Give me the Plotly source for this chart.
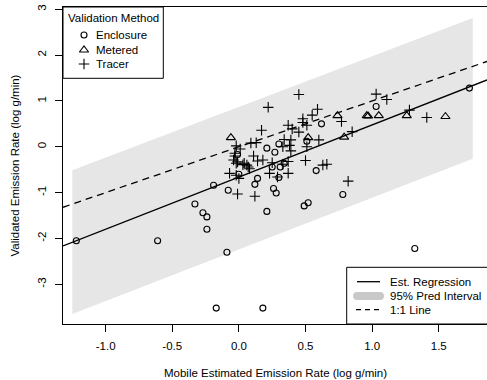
import plotly.graph_objects as go

# ---- data ----
enc_x = [-1.22, -0.61, -0.33, -0.27, -0.24, -0.24, -0.19, -0.08, -0.09, -0.17, 0.00, -0.01, 0.18, 1.32, 1.73,
         0.12, 0.14, 0.26, 0.28, 0.21, 0.49, 0.52, 0.78, 0.30, 0.58, 0.62, 0.30, 0.21, 0.27, 0.51, 0.25, 0.31, 0.34, 1.03]
enc_y = [-2.05, -2.05, -1.25, -1.44, -1.53, -1.80, -0.84, -0.95, -2.30, -3.52, -0.60, -0.17, -3.52, -2.22, 1.28,
         -0.82, -0.69, -0.91, -1.01, -1.41, -1.29, -1.22, -1.04, -0.67, -0.52, 0.50, 0.06, -0.03, -0.12, 0.12, -0.44, -0.44, -0.36, 0.88]

met_x = [-0.06, 0.52, 0.74, 0.96, 0.97, 1.05, 1.26, 1.55, 0.79]
met_y = [0.20, 0.20, 0.68, 0.68, 0.67, 0.68, 0.68, 0.66, 0.21]

tr_x = [0.45, 0.22, 0.59, 1.03, 1.11, 0.55, 0.48, 0.48, 0.51, 0.37, 0.40, 0.17, 0.45,
        0.09, 0.13, -0.02, 0.01, 0.34, 0.39, 0.33, 0.38, 0.60, 0.51,
        0.11, 0.18, 0.14, -0.03, -0.02, 0.04, 0.07, 0.25, 0.33, 0.50, 0.63, 0.66,
        -0.07, -0.02, 0.23, 0.29, 0.37, 0.12, -0.01, 0.00, -0.04, -0.01, 0.03, 0.08,
        -0.03, 0.37, 0.39, 0.06, 0.82, 1.41, 0.77, 0.85, 1.28]
tr_y = [1.14, 0.86, 0.82, 1.15, 1.03, 0.69, 0.61, 0.53, 0.47, 0.47, 0.39, 0.36, 0.32,
        0.08, 0.09, 0.02, -0.05, 0.16, 0.15, 0.00, 0.03, 0.15, 0.00,
        -0.20, -0.29, -0.31, -0.20, -0.36, -0.36, -0.44, -0.35, -0.38, -0.30, -0.40, -0.38,
        -0.58, -0.62, -0.58, -0.66, -0.58, -1.08, -1.03, -0.69, -0.29, -0.33, -0.39, -0.48,
        -0.14, -0.32, -0.09, -0.40, -0.75, 0.64, 0.55, 0.33, 0.80]

reg_coef = [-0.662, 1.1386]          # intercept, slope
band_x = [-1.25, 1.755]
band_upper = [-0.51, 2.81]
band_lower = [-3.65, -0.26]

x_ticks = [-1.0, -0.5, 0.0, 0.5, 1.0, 1.5]
x_ticktext = ["-1.0", "-0.5", "0.0", "0.5", "1.0", "1.5"]
y_ticks = [-3, -2, -1, 0, 1, 2, 3]
y_ticktext = ["-3", "-2", "-1", "0", "1", "2", "3"]

method_labels = ["Enclosure", "Metered", "Tracer"]
line_labels = ["Est. Regression", "95% Pred Interval", "1:1 Line"]

x_range = [-1.32, 1.862]
y_range = [-3.867, 3.05]

# ---- styling / layout ----
FONT = "Liberation Sans, Arial, Helvetica, sans-serif"
FS = 11.5
BAND = "#E6E6E6"
SWATCH = "#C8C8C8"
L, R, T, B = 63, 487, 7, 324          # plot-area pixel box

fig = go.Figure()

# prediction band
fig.add_trace(go.Scatter(
    x=band_x + band_x[::-1], y=band_upper + band_lower[::-1],
    fill="toself", fillcolor=BAND, line=dict(width=0, color=BAND),
    mode="lines", showlegend=False, hoverinfo="skip"))

# 1:1 line
fig.add_trace(go.Scatter(
    x=x_range, y=x_range, mode="lines",
    line=dict(color="black", width=1.3, dash="7px,5px"), showlegend=False))

# regression line
fig.add_trace(go.Scatter(
    x=x_range, y=[reg_coef[0] + reg_coef[1] * v for v in x_range], mode="lines",
    line=dict(color="black", width=1.3), showlegend=False))

sym = {"Enclosure": ("circle-open", 6), "Metered": ("triangle-up-open", 8), "Tracer": ("cross-thin-open", 7.5)}

for name, xs, ys in [("Enclosure", enc_x, enc_y), ("Metered", met_x, met_y), ("Tracer", tr_x, tr_y)]:
    s, sz = sym[name]
    fig.add_trace(go.Scatter(
        x=xs, y=ys, mode="markers", name=name, showlegend=False,
        marker=dict(symbol=s, size=sz, color="black", line=dict(width=1.1, color="black"))))

# ---- manual legends on a pixel-unit overlay axis ----
leg1_sym_x, leg1_txt_x = 84, 95
leg1_rows = [35, 50, 64]
for name, yy in zip(method_labels, leg1_rows):
    s, sz = sym[name]
    fig.add_trace(go.Scatter(
        x=[leg1_sym_x], y=[yy], xaxis="x2", yaxis="y2", mode="markers", showlegend=False,
        hoverinfo="skip",
        marker=dict(symbol=s, size=sz, color="black", line=dict(width=1.1, color="black"))))

shapes = [
    dict(type="rect", xref="x2", yref="y2", x0=L, x1=163.3, y0=T, y1=78.3,
         line=dict(color="black", width=1), fillcolor="white", layer="below"),
    dict(type="rect", xref="x2", yref="y2", x0=346.7, x1=R + 2, y0=267.3, y1=B,
         line=dict(color="black", width=1), fillcolor="white", layer="below"),
]
leg2_rows = [281.7, 296, 309.7]
lx0, lx1, ltx = 357, 380, 389
# Est. Regression sample
shapes.append(dict(type="line", xref="x2", yref="y2", x0=lx0, x1=lx1, y0=leg2_rows[0], y1=leg2_rows[0],
                   line=dict(color="black", width=1.3)))
# Pred interval swatch (rounded thick grey)
shapes.append(dict(type="rect", xref="x2", yref="y2", x0=lx0, x1=lx1, y0=leg2_rows[1] - 4, y1=leg2_rows[1] + 4,
                   line=dict(width=0), fillcolor=SWATCH))
for cx in (lx0, lx1):
    shapes.append(dict(type="circle", xref="x2", yref="y2", x0=cx - 4, x1=cx + 4,
                       y0=leg2_rows[1] - 4, y1=leg2_rows[1] + 4, line=dict(width=0), fillcolor=SWATCH))
# 1:1 dashed sample
shapes.append(dict(type="line", xref="x2", yref="y2", x0=lx0 - 1, x1=lx1 + 2, y0=leg2_rows[2], y1=leg2_rows[2],
                   line=dict(color="black", width=1.3, dash="5px,4px")))

annotations = [
    dict(text="Mobile Estimated Emission Rate (log g/min)", xref="paper", yref="paper",
         x=0.5, y=0, xanchor="center", yanchor="middle", yshift=-49, showarrow=False,
         font=dict(family=FONT, size=FS)),
    dict(text="Validated Emission Rate (log g/min)", xref="paper", yref="paper",
         x=0, y=0.5, xanchor="center", yanchor="middle", xshift=-49, textangle=-90,
         showarrow=False, font=dict(family=FONT, size=FS)),
    dict(text="Validation Method", xref="x2", yref="y2", x=65.5, y=17.5, xanchor="left",
         yanchor="middle", showarrow=False, font=dict(family=FONT, size=FS)),
]
for name, yy in zip(method_labels, leg1_rows):
    annotations.append(dict(text=name, xref="x2", yref="y2", x=leg1_txt_x - 1, y=yy, xanchor="left",
                            yanchor="middle", showarrow=False, font=dict(family=FONT, size=FS)))
for name, yy in zip(line_labels, leg2_rows):
    annotations.append(dict(text=name, xref="x2", yref="y2", x=ltx - 1, y=yy, xanchor="left",
                            yanchor="middle", showarrow=False, font=dict(family=FONT, size=FS)))

axis_common = dict(showgrid=False, zeroline=False, showline=True, linecolor="black", linewidth=1,
                   mirror=True, ticks="outside", ticklen=7, tickcolor="black", tickwidth=1,
                   tickfont=dict(family=FONT, size=FS, color="black"))

fig.update_layout(
    width=487, height=380,
    margin=dict(l=L, r=487 - R, t=T, b=380 - B),
    paper_bgcolor="white", plot_bgcolor="white",
    font=dict(family=FONT, size=FS, color="black"),
    showlegend=False,
    xaxis=dict(range=x_range, tickvals=x_ticks, ticktext=x_ticktext, ticklabelstandoff=4, **axis_common),
    yaxis=dict(range=y_range, tickvals=y_ticks, ticktext=y_ticktext, tickangle=-90, ticklabelstandoff=4,
               **axis_common),
    xaxis2=dict(overlaying="x", range=[L, R], visible=False, anchor="y2", fixedrange=True),
    yaxis2=dict(overlaying="y", range=[B, T], visible=False, anchor="x2", fixedrange=True),
    shapes=shapes,
    annotations=annotations,
)

fig.write_html("out.html")
